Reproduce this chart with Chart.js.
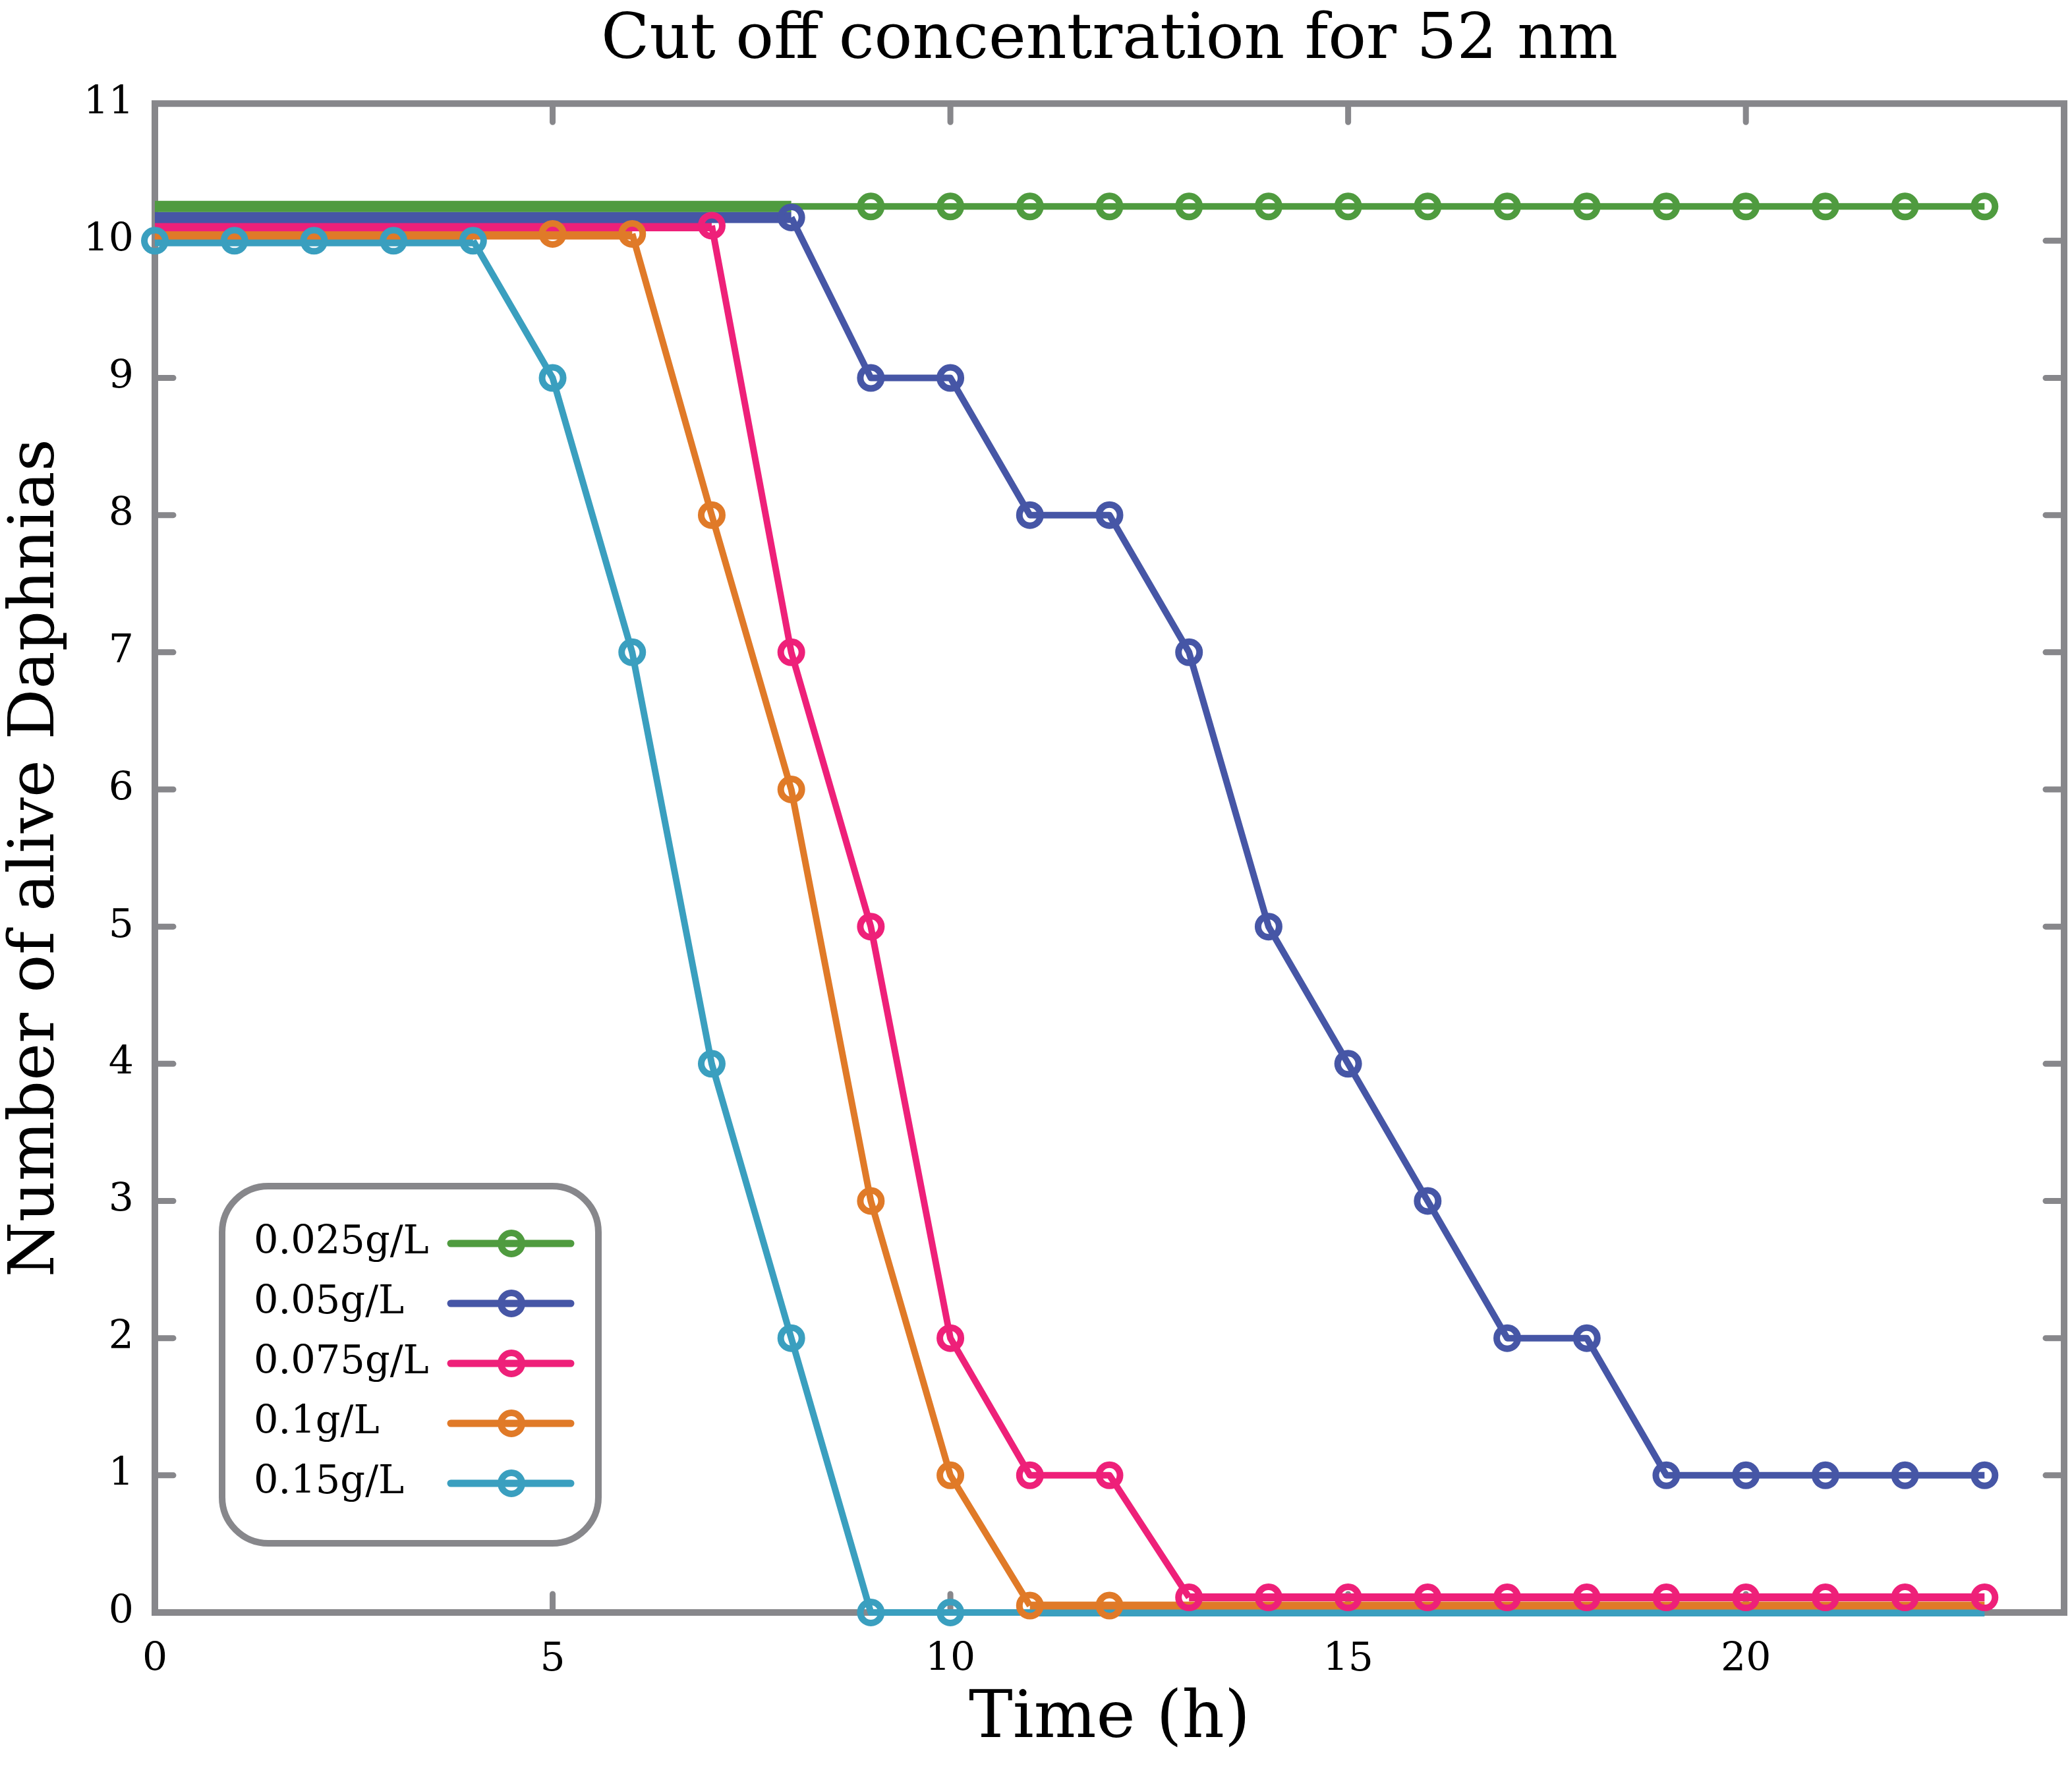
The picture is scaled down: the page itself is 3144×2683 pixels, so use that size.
<!DOCTYPE html>
<html>
<head>
<meta charset="utf-8">
<title>Cut off concentration for 52 nm</title>
<script src="https://cdn.jsdelivr.net/npm/chart.js@4.4.1/dist/chart.umd.min.js"></script>
<style>
  html, body { margin: 0; padding: 0; background: #fff; overflow: hidden; }
  #wrap { width: 3144px; height: 2683px; }
  canvas { display: block; }
</style>
</head>
<body>
<div id="wrap"><canvas id="chart" width="3144" height="2683"></canvas></div>
<script>
// time axis (h) and number of alive daphnias per concentration
const hours = [0, 1, 2, 3, 4, 5, 6, 7, 8, 9, 10, 11, 12, 13, 14, 15, 16, 17, 18, 19, 20, 21, 22, 23]
const labels = ['0.025g/L', '0.05g/L', '0.075g/L', '0.1g/L', '0.15g/L']
const alive025 = [10, 10, 10, 10, 10, 10, 10, 10, 10, 10, 10, 10, 10, 10, 10, 10, 10, 10, 10, 10, 10, 10, 10, 10]
const alive05 = [10, 10, 10, 10, 10, 10, 10, 10, 10, 9, 9, 8, 8, 7, 5, 4, 3, 2, 2, 1, 1, 1, 1, 1]
const alive075 = [10, 10, 10, 10, 10, 10, 10, 10, 7, 5, 2, 1, 1, 0, 0, 0, 0, 0, 0, 0, 0, 0, 0, 0]
const alive1 = [10, 10, 10, 10, 10, 10, 10, 8, 6, 3, 1, 0, 0, 0, 0, 0, 0, 0, 0, 0, 0, 0, 0, 0]
const alive15 = [10, 10, 10, 10, 10, 9, 7, 4, 2, 0, 0, 0, 0, 0, 0, 0, 0, 0, 0, 0, 0, 0, 0, 0]
const xTicks = [0, 5, 10, 15, 20]
const yTicks = [0, 1, 2, 3, 4, 5, 6, 7, 8, 9, 10, 11]

const series = [alive025, alive05, alive075, alive1, alive15]
const colors = ['#4f9b3f', '#4656a6', '#ee2079', '#e07a28', '#3a9fbf']
// small vertical shift so overlapping full / empty series stay visible
const shift = [0.25, 0.17, 0.11, 0.05, 0]
const gray = '#87878b'
const font = 'DejaVu Serif'

const bandOf = v => (v === 10 ? 'top' : v === 0 ? 'bottom' : null)

function shared(s, i) {
  const b = bandOf(series[s][i])
  if (!b) return null
  return series.some((o, t) => t !== s && bandOf(o[i]) === b) ? b : null
}

function segWidth(s, i, j) {
  const b = shared(s, i)
  if (b && b === shared(s, j)) return b === 'top' ? 17 : 12
  return 10
}

function showMark(s, i) {
  const b = bandOf(series[s][i])
  if (!b) return true
  return !series.some((o, t) => t !== s && bandOf(o[i]) === b &&
    (b === 'top' ? shift[t] < shift[s] : shift[t] > shift[s]))
}

const points = s => series[s].map((v, i) => ({ x: hours[i], y: bandOf(v) ? v + shift[s] : v }))

const lineSets = series.map((_, s) => ({
  label: labels[s],
  data: points(s),
  borderColor: colors[s],
  borderWidth: 10,
  borderJoinStyle: 'round',
  tension: 0,
  pointRadius: 0,
  pointHoverRadius: 0,
  clip: false,
  order: 1,
  segment: { borderWidth: c => segWidth(s, c.p0DataIndex, c.p1DataIndex) },
}))

const markSets = series.map((_, s) => ({
  label: labels[s],
  data: points(s),
  showLine: false,
  pointBorderColor: colors[s],
  pointBackgroundColor: 'rgba(0,0,0,0)',
  pointBorderWidth: 10,
  pointRadius: c => (showMark(s, c.dataIndex) ? 16 : 0),
  pointHoverRadius: c => (showMark(s, c.dataIndex) ? 16 : 0),
  clip: false,
  order: 0,
}))

const frame = {
  id: 'frame',
  beforeDatasetsDraw(chart) {
    const { ctx, chartArea: a, scales: { x, y } } = chart
    ctx.save()
    ctx.strokeStyle = gray
    ctx.lineCap = 'round'
    ctx.lineWidth = 9
    ctx.beginPath()
    yTicks.forEach(v => {
      if (v <= 0 || v >= 11) return
      const py = y.getPixelForValue(v)
      ctx.moveTo(a.left, py); ctx.lineTo(a.left + 28, py)
      ctx.moveTo(a.right, py); ctx.lineTo(a.right - 28, py)
    })
    xTicks.forEach(v => {
      if (v <= 0) return
      const px = x.getPixelForValue(v)
      ctx.moveTo(px, a.bottom); ctx.lineTo(px, a.bottom - 28)
      ctx.moveTo(px, a.top); ctx.lineTo(px, a.top + 28)
    })
    ctx.stroke()
    ctx.lineCap = 'butt'
    ctx.lineWidth = 10
    ctx.strokeRect(a.left, a.top, a.right - a.left, a.bottom - a.top)
    ctx.restore()
  }
}

const boxLegend = {
  id: 'boxLegend',
  afterDraw(chart) {
    const { ctx } = chart
    const bx = 337, by = 1800, bw = 571, bh = 542
    ctx.save()
    ctx.strokeStyle = gray
    ctx.lineWidth = 10
    ctx.beginPath()
    ctx.roundRect(bx, by, bw, bh, 70)
    ctx.fillStyle = '#fff'
    ctx.fill()
    ctx.stroke()
    ctx.font = '59px "' + font + '"'
    ctx.textBaseline = 'middle'
    labels.forEach((text, s) => {
      const ry = 1887 + s * 91
      ctx.fillStyle = '#000'
      ctx.fillText(text, 385, ry)
      ctx.strokeStyle = colors[s]
      ctx.lineCap = 'round'
      ctx.lineWidth = 11
      ctx.beginPath()
      ctx.moveTo(684, ry); ctx.lineTo(866, ry)
      ctx.stroke()
      ctx.lineWidth = 10
      ctx.beginPath()
      ctx.arc(776, ry, 16, 0, Math.PI * 2)
      ctx.stroke()
    })
    ctx.restore()
  }
}

Chart.defaults.font.family = font
Chart.defaults.color = '#000'

new Chart('chart', {
  type: 'line',
  data: { datasets: [...markSets, ...lineSets] },
  plugins: [frame, boxLegend],
  options: {
    responsive: false,
    devicePixelRatio: 1,
    animation: false,
    layout: { autoPadding: false, padding: { left: 0, right: 12, top: 0, bottom: 0 } },
    plugins: {
      legend: { display: false },
      tooltip: { enabled: false },
      title: {
        display: true,
        fullSize: false,
        text: 'Cut off concentration for 52 nm',
        color: '#000',
        font: { size: 96, weight: 'normal', lineHeight: 1.2 },
        padding: { top: 5, bottom: 37 },
      },
    },
    scales: {
      x: {
        type: 'linear',
        min: 0,
        max: 24,
        afterBuildTicks: s => { s.ticks = xTicks.map(v => ({ value: v })) },
        afterFit: s => { s.height = 236 },
        ticks: { font: { size: 60 }, color: '#000', padding: 36 },
        grid: { display: false, drawTicks: false },
        border: { display: false },
        title: {
          display: true,
          text: 'Time (h)',
          color: '#000',
          font: { size: 100, lineHeight: 1.2 },
          padding: { top: 0, bottom: 13 },
        },
      },
      y: {
        type: 'linear',
        min: 0,
        max: 11,
        afterBuildTicks: s => { s.ticks = yTicks.map(v => ({ value: v })) },
        afterFit: s => { s.width = 235 },
        ticks: { font: { size: 60 }, color: '#000', padding: 32 },
        grid: { display: false, drawTicks: false },
        border: { display: false },
        title: {
          display: true,
          text: 'Number of alive Daphnias',
          color: '#000',
          font: { size: 96, lineHeight: 1 },
          padding: { top: 8, bottom: 0 },
        },
      },
    },
  },
})
</script>
</body>
</html>
